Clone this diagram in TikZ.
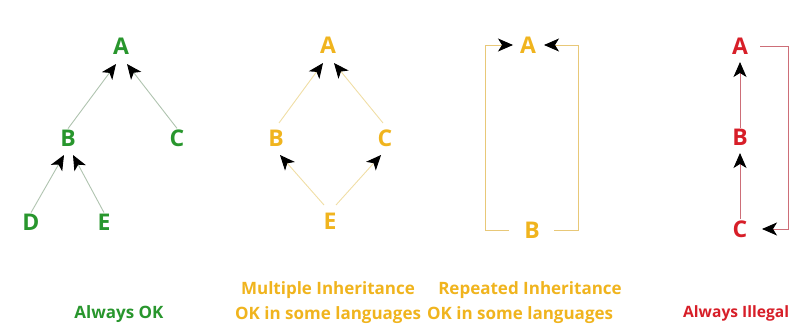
\documentclass[tikz,border=0pt]{standalone}
\usepackage{fontspec}
\setmainfont{Open Sans}
\usetikzlibrary{arrows.meta,calc}
\definecolor{tgreen}{RGB}{40,150,45}
\definecolor{torange}{RGB}{240,180,30}
\definecolor{tred}{RGB}{215,30,40}
\definecolor{lgreen}{RGB}{175,195,175}
\definecolor{lorange}{RGB}{240,222,165}
\definecolor{lorange2}{RGB}{232,200,120}
\definecolor{lred}{RGB}{205,110,120}
\tikzset{
  letter/.style={font=\fontsize{23}{23}\selectfont\bfseries, inner sep=1pt},
  caption/.style={font=\fontsize{17}{17}\selectfont\bfseries, inner sep=0pt},
  tip/.style={-{Stealth[length=15pt,width=13pt,inset=4pt,color=black]}},
  gline/.style={draw=lgreen, line width=0.9pt},
  oline/.style={draw=lorange, line width=0.9pt},
  bline/.style={draw=lorange2, line width=0.9pt},
  rline/.style={draw=lred, line width=0.9pt},
}
\begin{document}
\begin{tikzpicture}[x=1pt,y=-1pt]
\useasboundingbox (0,0) rectangle (797,329);
% ---- Always OK tree
\begin{scope}[every node/.style={letter, text=tgreen}]
\node (gA) at (121,46) {A};
\node (gB) at (68,138) {B};
\node (gC) at (177,138) {C};
\node (gD) at (31,222) {D};
\node (gE) at (104,222) {E};
\end{scope}
\draw[gline,tip] (gB.north) -- ($(gA)+(-5,18)$);
\draw[gline,tip] (gC.north) -- ($(gA)+(6,18)$);
\draw[gline,tip] (gD.north) -- ($(gB)+(-4,17)$);
\draw[gline,tip] (gE.north) -- ($(gB)+(5,17)$);
% ---- Multiple inheritance
\begin{scope}[every node/.style={letter, text=torange}]
\node (mA) at (328,45) {A};
\node (mB) at (276,138) {B};
\node (mC) at (385,138) {C};
\node (mE) at (330,221) {E};
\end{scope}
\draw[oline,tip] ($(mB)+(3,-15)$) -- ($(mA)+(-5,18)$);
\draw[oline,tip] ($(mC)+(-2,-15)$) -- ($(mA)+(6,18)$);
\draw[oline,tip] ($(mE)+(-6,-16)$) -- ($(mB)+(4,17)$);
\draw[oline,tip] ($(mE)+(6,-16)$) -- ($(mC)+(-4,17)$);
% ---- Repeated inheritance
\begin{scope}[every node/.style={letter, text=torange}]
\node (rA) at (528,45) {A};
\node (rB) at (532,230) {B};
\end{scope}
\draw[bline,tip] ([xshift=-23]rB.center) -- ++(-24,0) |- ([xshift=-15]rA.center);
\draw[bline,tip] ([xshift=22]rB.center) -- ++(24,0) |- ([xshift=16]rA.center);
% ---- Always illegal
\begin{scope}[every node/.style={letter, text=tred}]
\node (xA) at (740,46) {A};
\node (xB) at (740,137) {B};
\node (xC) at (740,229) {C};
\end{scope}
\draw[rline,tip] (xB.north) -- ($(xA)+(0,16)$);
\draw[rline,tip] (xC.north) -- ($(xB)+(0,16)$);
\draw[rline,tip] ([xshift=20]xA.center) -- ++(28,0) |- ([xshift=22]xC.center);
% ---- captions
\node[caption, text=tgreen] (capOK) at (119,314) {Always OK};
\node[caption, text=torange] (capM1) at (328,290) {Multiple Inheritance};
\node[caption, text=torange, anchor=west] (capM2) at (235,315) {OK in some languages};
\node[caption, text=torange] (capR1) at (530,290) {Repeated Inheritance};
\node[caption, text=torange, anchor=west, fill=white, inner xsep=1pt] (capR2) at (426,315) {OK in some languages};
\node[caption, text=tred, anchor=west, font=\fontsize{15.6}{16}\selectfont\bfseries] (capX) at (683,313) {Always Illegal};
\end{tikzpicture}
\end{document}
